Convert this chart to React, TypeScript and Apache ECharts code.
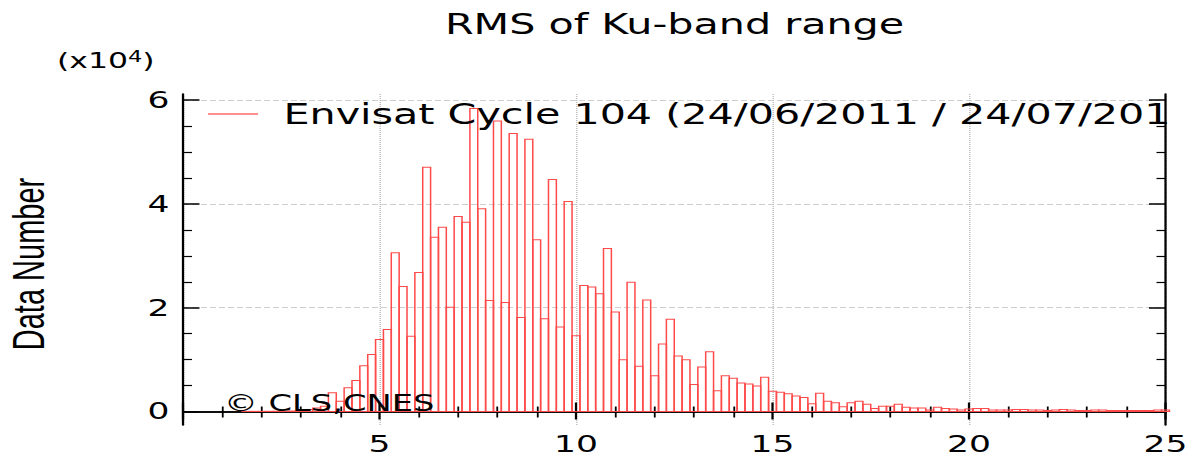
import React, { useEffect, useRef } from 'react';
import * as echarts from 'echarts';

// horizontal stretch of the whole picture
const S = 1.5;
const W = 1195;
const H = 467;
const IW = W / S;

const titleText = 'RMS of Ku-band range';
const seriesName = 'Envisat Cycle 104 (24/06/2011 / 24/07/2011)';
const yUnitBase = '(x10';
const yUnitExp = '4';
const yAxisName = 'Data Number';
const copyrightText = '© CLS,CNES';

const binWidth = 0.2;
const binCenters = [
  1.6, 1.8, 2.0, 2.2, 2.4, 2.6, 2.8, 3.0, 3.2, 3.4, 3.6, 3.8, 4.0, 4.2, 4.4, 4.6, 4.8,
  5.0, 5.2, 5.4, 5.6, 5.8, 6.0, 6.2, 6.4, 6.6, 6.8, 7.0, 7.2, 7.4, 7.6, 7.8,
  8.0, 8.2, 8.4, 8.6, 8.8, 9.0, 9.2, 9.4, 9.6, 9.8, 10.0, 10.2, 10.4, 10.6, 10.8,
  11.0, 11.2, 11.4, 11.6, 11.8, 12.0, 12.2, 12.4, 12.6, 12.8, 13.0, 13.2, 13.4, 13.6, 13.8,
  14.0, 14.2, 14.4, 14.6, 14.8, 15.0, 15.2, 15.4, 15.6, 15.8, 16.0, 16.2, 16.4, 16.6, 16.8,
  17.0, 17.2, 17.4, 17.6, 17.8, 18.0, 18.2, 18.4, 18.6, 18.8, 19.0, 19.2, 19.4, 19.6, 19.8,
  20.0, 20.2, 20.4, 20.6, 20.8, 21.0, 21.2, 21.4, 21.6, 21.8, 22.0, 22.2, 22.4, 22.6, 22.8,
  23.0, 23.2, 23.4, 23.6, 23.8, 24.0, 24.2, 24.4, 24.6, 24.8, 25.0,
];
// counts in units of 10^4
const counts = [
  0.003, 0.003, 0.003, 0.004, 0.005, 0.006, 0.01, 0.02, 0.04, 0.07, 0.1, 0.36, 0.2, 0.46, 0.6, 0.88, 1.1,
  1.39, 1.58, 3.06, 2.41, 1.45, 2.68, 4.71, 3.36, 3.55, 2.01, 3.76, 3.65, 5.84, 3.91, 2.14,
  5.6, 2.1, 5.36, 1.81, 5.25, 3.31, 1.79, 4.47, 1.63, 4.05, 1.46, 2.43, 2.4, 2.27, 3.14,
  1.92, 1.0, 2.49, 0.87, 2.15, 0.69, 1.3, 1.78, 1.07, 1.0, 0.52, 0.86, 1.15, 0.4, 0.69,
  0.64, 0.55, 0.53, 0.49, 0.66, 0.39, 0.37, 0.34, 0.3, 0.27, 0.15, 0.35, 0.2, 0.17, 0.09,
  0.17, 0.2, 0.14, 0.06, 0.1, 0.1, 0.14, 0.08, 0.07, 0.07, 0.03, 0.08, 0.06, 0.05, 0.03,
  0.05, 0.06, 0.06, 0.03, 0.03, 0.03, 0.04, 0.04, 0.03, 0.03, 0.02, 0.03, 0.04, 0.03, 0.02,
  0.02, 0.03, 0.03, 0.02, 0.02, 0.02, 0.02, 0.02, 0.02, 0.03, 0.03,
];

const xMin = 0;
const xMax = 25;
const xInterval = 5;
const yMin = -0.26;
const yMax = 6.12;
const yMajorTicks = [0, 2, 4, 6];
const yMinorTicks = [0.5, 1, 1.5, 2.5, 3, 3.5, 4.5, 5, 5.5];

const FONT = 'DejaVu Sans';
const BAR_COLOR = '#ff4a4a';

export default function App() {
  const ref = useRef<HTMLDivElement>(null);

  useEffect(() => {
    document.body.style.margin = '0';
    const chart = echarts.init(ref.current!, null, { renderer: 'svg' });
    const black = { color: '#000', width: 1.5 };

    const yBase = {
      type: 'value' as const,
      min: yMin,
      max: yMax,
      splitNumber: 3,
      minInterval: 2,
      maxInterval: 2,
    };

    chart.setOption({
      animation: false,
      backgroundColor: '#fff',
      title: {
        text: titleText,
        left: 667 / S,
        textAlign: 'center',
        top: 5,
        textStyle: { fontFamily: FONT, fontSize: 27.5, fontWeight: 'normal', color: '#000' },
      },
      legend: {
        show: true,
        left: 208 / S,
        top: 100,
        padding: 0,
        itemWidth: 50 / S,
        itemHeight: 1.5,
        icon: 'rect',
        selectedMode: false,
        data: [{ name: seriesName, itemStyle: { color: '#ff6a6a' } }],
        textStyle: {
          fontFamily: FONT,
          fontSize: 27.5,
          color: '#000',
          padding: [0, 0, 0, 12],
          width: 905 / S,
          overflow: 'truncate',
          ellipsis: '',
        },
      },
      grid: { left: 183 / S, right: 30 / S, top: 94, bottom: 42, containLabel: false },
      xAxis: [
        {
          type: 'value',
          position: 'bottom',
          min: xMin,
          max: xMax,
          interval: xInterval,
          axisLine: { show: true, lineStyle: black },
          axisTick: { show: true, inside: true, length: 9, lineStyle: black },
          minorTick: { show: true, splitNumber: 5, length: 5, lineStyle: { color: '#000', width: 1.2 } },
          axisLabel: { fontFamily: FONT, fontSize: 23, color: '#000', margin: 8, showMinLabel: false },
          splitLine: { show: true, lineStyle: { color: '#bdbdbd', type: 'dotted', width: 1 } },
        },
        {
          type: 'value',
          position: 'top',
          min: xMin,
          max: xMax,
          interval: xInterval,
          axisLine: { show: true, lineStyle: black },
          axisTick: { show: true, inside: true, length: 8, lineStyle: black },
          minorTick: { show: true, splitNumber: 5, length: 6, lineStyle: { color: '#000', width: 1.2 } },
          axisLabel: { show: false },
          splitLine: { show: false },
        },
      ],
      yAxis: [
        {
          ...yBase,
          position: 'left',
          axisLine: { show: true, lineStyle: black },
          axisTick: { show: true, inside: true, length: 11, customValues: yMajorTicks, lineStyle: black },
          axisLabel: { customValues: yMajorTicks, fontFamily: FONT, fontSize: 23, color: '#000', margin: 9 },
          splitLine: { show: true, lineStyle: { color: '#cfcfcf', type: 'dashed', width: 1 } },
        },
        {
          ...yBase,
          position: 'left',
          axisLine: { show: false },
          axisTick: { show: true, inside: true, length: 6, customValues: yMinorTicks, lineStyle: { color: '#000', width: 1.2 } },
          axisLabel: { show: false },
          splitLine: { show: false },
        },
        {
          ...yBase,
          position: 'right',
          axisLine: { show: true, lineStyle: black },
          axisTick: { show: true, inside: true, length: 11, customValues: yMajorTicks, lineStyle: black },
          axisLabel: { show: false },
          splitLine: { show: false },
        },
        {
          ...yBase,
          position: 'right',
          axisLine: { show: false },
          axisTick: { show: true, inside: true, length: 6, customValues: yMinorTicks, lineStyle: { color: '#000', width: 1.2 } },
          axisLabel: { show: false },
          splitLine: { show: false },
        },
      ],
      series: [
        {
          type: 'custom',
          name: seriesName,
          xAxisIndex: 0,
          yAxisIndex: 0,
          itemStyle: { color: BAR_COLOR },
          encode: { x: 0, y: 1 },
          data: binCenters.map((c, i) => [c, counts[i]]),
          renderItem: (params: any, api: any) => {
            const x = api.value(0);
            const v = api.value(1);
            const p0 = api.coord([x - binWidth / 2, v]);
            const p1 = api.coord([x + binWidth / 2, 0]);
            return {
              type: 'rect',
              shape: { x: p0[0], y: p0[1], width: p1[0] - p0[0], height: p1[1] - p0[1] },
              style: { fill: 'none', stroke: BAR_COLOR, lineWidth: 1 },
            };
          },
        },
      ],
      graphic: [
        {
          type: 'text',
          x: 57 / S,
          y: 61,
          z: 100,
          style: {
            text: `{a|${yUnitBase}}{b|${yUnitExp}}{a|)}`,
            rich: {
              a: { fontFamily: FONT, fontSize: 21, fill: '#000', color: '#000' },
              b: { fontFamily: FONT, fontSize: 15, fill: '#000', color: '#000', verticalAlign: 'top', padding: [0, 0, 8, 0] },
            },
            align: 'left',
            verticalAlign: 'middle',
            textAlign: 'left',
            textVerticalAlign: 'middle',
          },
        },
        {
          type: 'text',
          x: 29 / S,
          y: 264,
          rotation: Math.PI / 2,
          z: 100,
          style: { text: yAxisName, fontFamily: 'Liberation Sans', fontSize: 29, fill: '#000', align: 'center', verticalAlign: 'middle', textAlign: 'center', textVerticalAlign: 'middle' },
        },
        {
          type: 'text',
          x: 224 / S,
          y: 403,
          z: 100,
          style: { text: copyrightText, fontFamily: FONT, fontSize: 22.5, fill: '#000', align: 'left', verticalAlign: 'middle', textAlign: 'left', textVerticalAlign: 'middle' },
        },
      ],
    });

    return () => chart.dispose();
  }, []);

  return (
    <div style={{ width: W, height: H, overflow: 'hidden', background: '#fff' }}>
      <div
        ref={ref}
        style={{ width: IW, height: H, transform: `scaleX(${S})`, transformOrigin: '0 0' }}
      />
    </div>
  );
}
